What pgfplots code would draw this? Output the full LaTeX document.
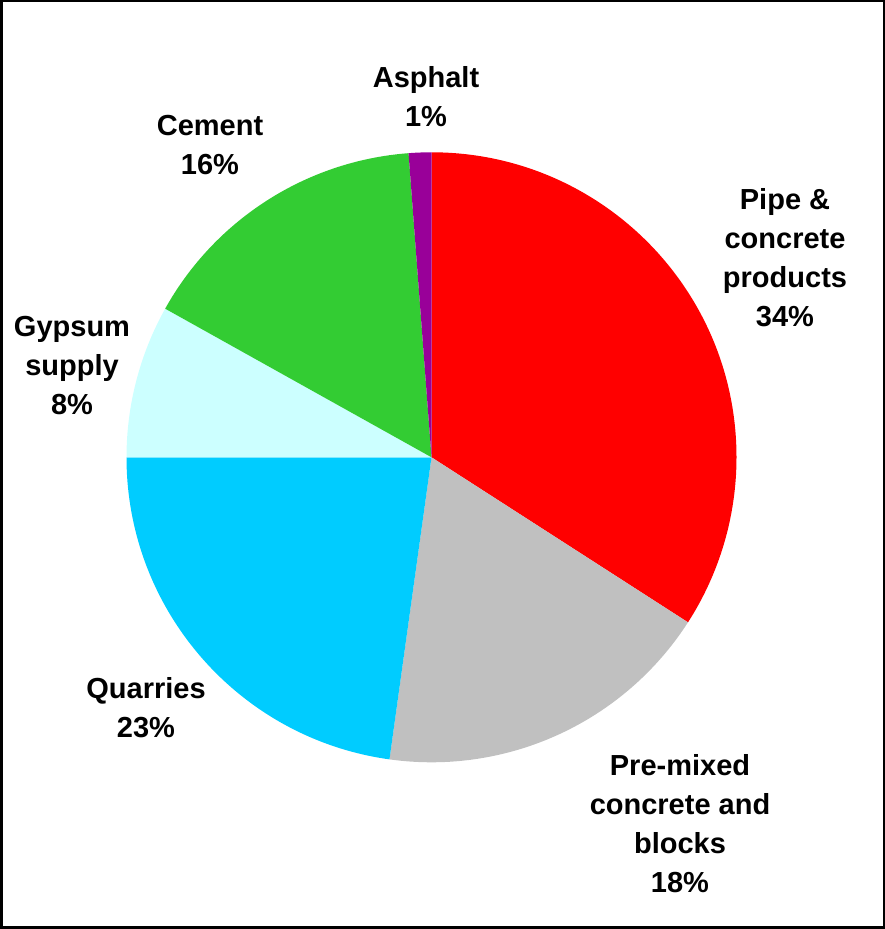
\documentclass[border=0pt]{standalone}
\usepackage{pgfplots}
\pgfplotsset{compat=1.18}
\usepackage{pgfplotstable}
\usepackage{fontspec}
\setmainfont{Liberation Sans}
\definecolor{cPipe}{HTML}{FF0000}
\definecolor{cPremix}{HTML}{C0C0C0}
\definecolor{cQuarry}{HTML}{00CCFF}
\definecolor{cGypsum}{HTML}{CCFFFF}
\definecolor{cCement}{HTML}{33CC33}
\definecolor{cAsphalt}{HTML}{990099}
% share of each sector, percent, clockwise from 12 o'clock
\pgfplotstableread{
sector  value  color
Pipe    34.1   cPipe
Premix  18.1   cPremix
Quarry  22.8   cQuarry
Gypsum  8.1    cGypsum
Cement  15.7   cCement
Asphalt 1.2    cAsphalt
}\piedata
\begin{document}
\begin{tikzpicture}
\pgfplotstablegetrowsof{\piedata}
\pgfmathtruncatemacro{\nrows}{\pgfplotsretval-1}
\def\cx{431.5}
\def\cy{471.7}
\def\rad{305}
\begin{axis}[
  scale only axis, width=885pt, height=929pt,
  xmin=0, xmax=885, ymin=0, ymax=929,
  hide axis, clip=false,
]
\addplot[draw=none, forget plot] coordinates {(0,0) (885,929)};
\xdef\cumul{0}
\pgfplotsinvokeforeach{0,...,\nrows}{%
  \pgfplotstablegetelem{#1}{value}\of{\piedata}\let\val\pgfplotsretval
  \pgfplotstablegetelem{#1}{color}\of{\piedata}\let\col\pgfplotsretval
  \pgfmathsetmacro{\aStart}{90-3.6*\cumul}
  \pgfmathsetmacro{\aEnd}{90-3.6*(\cumul+\val)}
  \pgfmathsetmacro{\newcumul}{\cumul+\val}
  \xdef\cumul{\newcumul}
  \edef\doslice{\noexpand\fill[\col] (axis cs:\cx,\cy) -- ++(\aStart:\rad pt) arc[start angle=\aStart, end angle=\aEnd, radius=\rad pt] -- cycle;}
  \doslice
}
\begin{scope}[every node/.style={align=center, inner sep=0pt, font=\fontsize{29}{39}\selectfont\bfseries}]
\node at (axis cs:426,832) {Asphalt\\1\%};
\node at (axis cs:210,784) {Cement\\16\%};
\node at (axis cs:785,671) {Pipe \&\\concrete\\products\\34\%};
\node at (axis cs:72,563) {Gypsum\\supply\\8\%};
\node at (axis cs:146,221) {Quarries\\23\%};
\node at (axis cs:680,105) {Pre-mixed\\concrete and\\blocks\\18\%};
\end{scope}
\draw[line width=2.5pt] (axis cs:1.25,1.25) rectangle (axis cs:883.75,927.75);
\end{axis}
\end{tikzpicture}
\end{document}
